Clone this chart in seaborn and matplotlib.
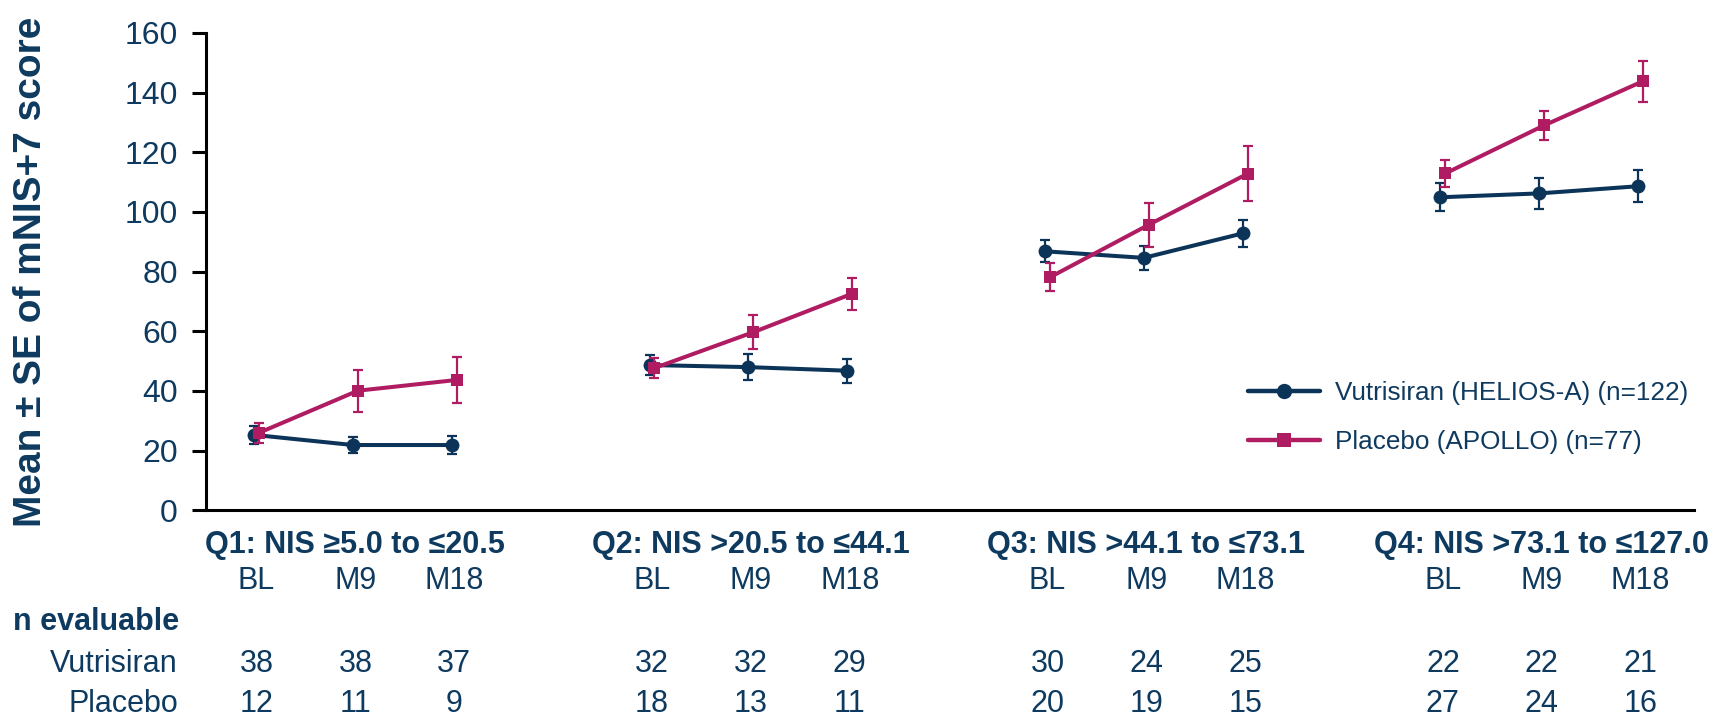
import matplotlib
matplotlib.use("Agg")
import matplotlib.pyplot as plt
import matplotlib.transforms as mtransforms
from matplotlib.lines import Line2D
import numpy as np
import pandas as pd
import seaborn as sns

# ---- data -------------------------------------------------------------
quartiles = ["Q1: NIS \u22655.0 to \u226420.5",
             "Q2: NIS >20.5 to \u226444.1",
             "Q3: NIS >44.1 to \u226473.1",
             "Q4: NIS >73.1 to \u2264127.0"]
timepoints = ["BL", "M9", "M18"]

vut_mean = [25.3, 21.9, 21.9, 48.7, 48.0, 46.8, 86.8, 84.6, 92.8, 104.9, 106.2, 108.6]
vut_se = [3.0, 2.6, 3.0, 3.5, 4.3, 4.0, 3.7, 4.0, 4.6, 4.7, 5.2, 5.3]
pbo_mean = [26.0, 40.1, 43.7, 47.7, 59.7, 72.6, 78.1, 95.7, 112.8, 112.9, 129.0, 143.8]
pbo_se = [3.4, 7.1, 7.8, 3.4, 5.7, 5.4, 4.7, 7.3, 9.2, 4.4, 4.8, 6.9]

n_vut = [38, 38, 37, 32, 32, 29, 30, 24, 25, 22, 22, 21]
n_pbo = [12, 11, 9, 18, 13, 11, 20, 19, 15, 27, 24, 16]

series_labels = ["Vutrisiran (HELIOS-A) (n=122)", "Placebo (APOLLO) (n=77)"]
row_labels = ["Vutrisiran", "Placebo"]

# ---- style ------------------------------------------------------------
NAVY = "#0c3358"
MAGENTA = "#b01c62"
TEXT = "#0e3a5f"
FS = 22

sns.set_theme(style="white")
plt.rcParams["font.family"] = ["Liberation Sans", "DejaVu Sans"]

# ---- layout helpers ---------------------------------------------------
n_q = len(quartiles)
n_t = len(timepoints)
base_x = np.array([4 * q + t for q in range(n_q) for t in range(n_t)], dtype=float)
dodge = {series_labels[0]: -0.025, series_labels[1]: 0.025}

rows = []
for label, means, ses in [(series_labels[0], vut_mean, vut_se),
                          (series_labels[1], pbo_mean, pbo_se)]:
    for i, (m, s) in enumerate(zip(means, ses)):
        rows.append({"series": label, "quartile": i // n_t,
                     "x": base_x[i] + dodge[label], "mean": m, "se": s})
df = pd.DataFrame(rows)

W, H = 1725, 718
fig = plt.figure(figsize=(W / 100, H / 100), dpi=100)
ax = fig.add_axes([205.7 / W, 1 - 510.4 / H, (1694 - 205.7) / W, (510.4 - 32.8) / H])

palette = {series_labels[0]: NAVY, series_labels[1]: MAGENTA}
markers = {series_labels[0]: "o", series_labels[1]: "s"}
msize = {series_labels[0]: 10, series_labels[1]: 9}

for k, label in enumerate(series_labels):
    sub = df[df["series"] == label]
    z = 3 + 2 * k
    ax.errorbar(sub["x"], sub["mean"], yerr=sub["se"], fmt="none",
                ecolor=palette[label], elinewidth=1.6, capsize=3.8,
                capthick=1.6, zorder=z)
    sns.lineplot(data=sub, x="x", y="mean", units="quartile", estimator=None,
                 color=palette[label], linewidth=2.9, marker=markers[label],
                 markersize=msize[label], markeredgewidth=0,
                 legend=False, ax=ax, zorder=z + 1)

ax.set_xlim(-0.514, 14.54)
ax.set_ylim(0, 160)
ax.set_yticks(np.arange(0, 161, 20))
ax.set_xticks([])
ax.set_xlabel("")
ax.set_ylabel("Mean \u00b1 SE of mNIS+7 score", fontsize=28, fontweight="bold",
              color=TEXT, va="center")
ax.yaxis.set_label_coords(31 / W, 1 - 272 / H, transform=fig.transFigure)

for side in ["top", "right"]:
    ax.spines[side].set_visible(False)
for side in ["left", "bottom"]:
    ax.spines[side].set_color("black")
    ax.spines[side].set_linewidth(2.2)
ax.tick_params(axis="y", which="both", left=True, direction="out", length=10,
               width=2.2, color="black", labelsize=FS + 1, labelcolor=TEXT, pad=10)

# ---- labels under the axis -------------------------------------------
tr = mtransforms.blended_transform_factory(ax.transData, fig.transFigure)
figy = lambda ypx: 1 - ypx / H

for q, qlabel in enumerate(quartiles):
    xc = 4 * q + 1
    ax.text(xc, figy(545), qlabel, transform=tr, ha="center", va="center",
            fontsize=FS, fontweight="bold", color=TEXT)
    for t, tl in enumerate(timepoints):
        i = q * n_t + t
        ax.text(base_x[i], figy(581), tl, transform=tr, ha="center", va="center",
                fontsize=FS, color=TEXT)
        ax.text(base_x[i], figy(664), str(n_vut[i]), transform=tr, ha="center",
                va="center", fontsize=FS, color=TEXT)
        ax.text(base_x[i], figy(704), str(n_pbo[i]), transform=tr, ha="center",
                va="center", fontsize=FS, color=TEXT)

fig.text(13 / W, figy(622), "n evaluable", ha="left", va="center",
         fontsize=FS, fontweight="bold", color=TEXT)
fig.text(178 / W, figy(664), row_labels[0], ha="right", va="center",
         fontsize=FS, color=TEXT)
fig.text(178 / W, figy(704), row_labels[1], ha="right", va="center",
         fontsize=FS, color=TEXT)

# ---- legend -----------------------------------------------------------
handles = [Line2D([0], [0], color=palette[l], linewidth=3.2, marker=markers[l],
                  markersize=msize[l] + 1, markeredgewidth=0) for l in series_labels]
fig.legend(handles, series_labels, loc="upper left",
           bbox_to_anchor=(1248 / W, figy(381)), frameon=False, fontsize=18.8,
           handlelength=2.75, handletextpad=0.6, labelspacing=0.95,
           borderpad=0, borderaxespad=0, labelcolor=TEXT)

fig.savefig("out.png", dpi=100, facecolor="white")
